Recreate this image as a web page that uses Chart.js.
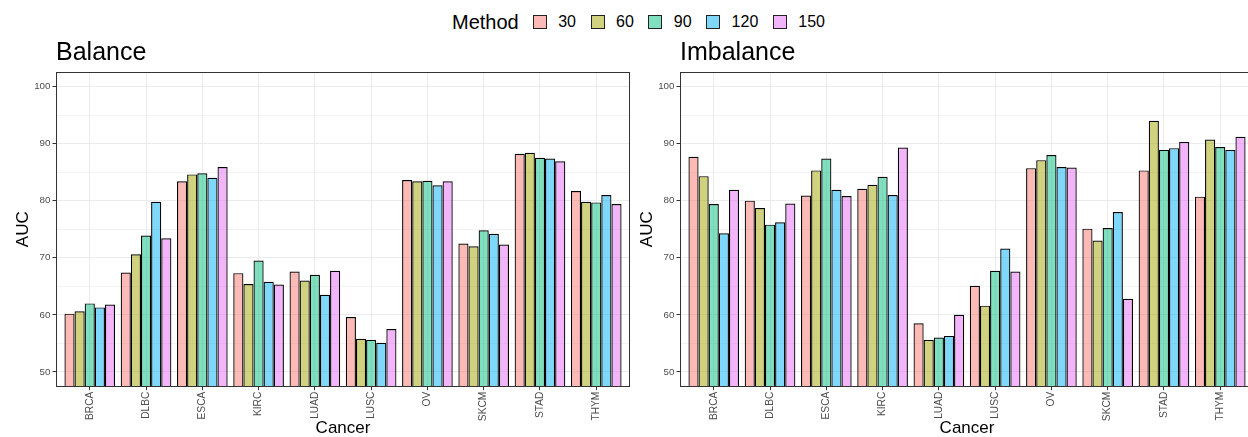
<!DOCTYPE html>
<html>
<head>
<meta charset="utf-8">
<script src="https://cdn.jsdelivr.net/npm/chart.js@4.4.1/dist/chart.umd.min.js"></script>
<style>
  html, body { margin: 0; padding: 0; background: #fff; width: 1248px; height: 437px; overflow: hidden; position: relative; }
  canvas { position: absolute; top: 0; }
  #left { left: 0; }
  #right { left: 624px; }
  #legend { position: absolute; left: 452px; top: 10px; height: 24px; display: flex; align-items: center;
            font-family: "Liberation Sans", Arial, Helvetica, sans-serif; color: #000; white-space: nowrap; }
  #legend .ttl { font-size: 20px; margin-right: 14px; }
  #legend .key { width: 12px; height: 12px; border: 0.8px solid #222; margin-right: 11.5px; }
  #legend .lab { font-size: 16px; margin-right: 14.5px; }
</style>
</head>
<body>
<div id="legend"></div>
<canvas id="left" width="640" height="437"></canvas>
<canvas id="right" width="640" height="437"></canvas>
<script>
// Cancer types along the x axis
const cancers = ['BRCA', 'DLBC', 'ESCA', 'KIRC', 'LUAD', 'LUSC', 'OV', 'SKCM', 'STAD', 'THYM'];
// Method settings (legend entries)
const methods = ['30', '60', '90', '120', '150'];

// AUC per cancer, balanced setting
const balance30  = [60.2, 67.4, 83.4, 67.3, 67.6, 59.6, 83.6, 72.5, 88.2, 81.7];
const balance60  = [60.6, 70.6, 84.6, 65.4, 66.0, 55.8, 83.4, 72.0, 88.4, 79.8];
const balance90  = [62.0, 73.9, 84.8, 69.5, 67.0, 55.6, 83.5, 74.8, 87.5, 79.7];
const balance120 = [61.3, 79.8, 84.0, 65.8, 63.5, 55.1, 82.7, 74.2, 87.4, 81.0];
const balance150 = [61.8, 73.4, 85.9, 65.3, 67.7, 57.5, 83.4, 72.3, 86.9, 79.4];

// AUC per cancer, imbalanced setting
const imbalance30  = [87.7, 80.0, 80.9, 82.1, 58.5, 65.1, 85.7, 75.1, 85.3, 80.7];
const imbalance60  = [84.3, 78.7, 85.3, 82.8, 55.6, 61.6, 87.1, 73.0, 94.0, 90.7];
const imbalance90  = [79.4, 75.8, 87.4, 84.2, 56.0, 67.7, 88.0, 75.2, 88.9, 89.4];
const imbalance120 = [74.3, 76.2, 81.9, 81.0, 56.3, 71.6, 85.9, 78.0, 89.2, 88.9];
const imbalance150 = [81.9, 79.5, 80.8, 89.3, 60.0, 67.6, 85.8, 62.8, 90.3, 91.2];

// y axis tick values
const majorTicks = [50, 60, 70, 80, 90, 100];
const minorTicks = [55, 65, 75, 85, 95];

// default ggplot hue palette, drawn at half opacity
const hues = ['248,118,109', '163,165,0', '0,191,125', '0,176,246', '231,107,243'];
const fillOf = i => `rgba(${hues[i]},0.5)`;

const FONT = '"Liberation Sans", Arial, Helvetica, sans-serif';

// legend shared by both panels
(function buildLegend() {
  const lg = document.getElementById('legend');
  const t = document.createElement('span');
  t.className = 'ttl'; t.textContent = 'Method';
  lg.appendChild(t);
  methods.forEach((m, i) => {
    const k = document.createElement('span');
    k.className = 'key'; k.style.background = fillOf(i);
    const l = document.createElement('span');
    l.className = 'lab'; l.textContent = m;
    lg.appendChild(k); lg.appendChild(l);
  });
})();

// outline around the plotting panel
const panelBorder = {
  id: 'panelBorder',
  afterDatasetsDraw(chart) {
    const {ctx, chartArea: a} = chart;
    ctx.save();
    ctx.strokeStyle = '#333333';
    ctx.lineWidth = 1;
    ctx.strokeRect(Math.round(a.left) + 0.5, Math.round(a.top) + 0.5,
                   Math.round(a.right - a.left) - 1, Math.round(a.bottom - a.top) - 1);
    ctx.restore();
  }
};

function makePanel(id, title, series) {
  const datasets = series.map((vals, i) => ({
    label: methods[i],
    data: vals.map((v, j) => ({x: j + 1, y: v})),
    backgroundColor: fillOf(i),
    borderColor: '#000000',
    borderWidth: 1.2,
    borderSkipped: false,
    categoryPercentage: 0.9,
    barPercentage: 1.0
  }));
  return new Chart(document.getElementById(id), {
    type: 'bar',
    data: {datasets},
    plugins: [panelBorder],
    options: {
      responsive: false,
      animation: false,
      layout: {padding: {left: 0, right: 10, top: 0, bottom: 0}},
      plugins: {
        legend: {display: false},
        tooltip: {enabled: false},
        title: {
          display: true, text: title, align: 'start', fullSize: false,
          color: '#000', font: {family: FONT, size: 25, weight: 'normal', lineHeight: 1.2},
          padding: {top: 38, bottom: 3.7}
        }
      },
      scales: {
        x: {
          type: 'linear', min: 0.4, max: cancers.length + 0.6, offset: false,
          afterBuildTicks: s => { s.ticks = cancers.map((c, i) => ({value: i + 1})); },
          afterFit: s => { s.height = 50.3; },
          border: {display: false},
          grid: {offset: false, color: '#EBEBEB', lineWidth: 1, drawTicks: true, tickLength: 3.5, tickColor: '#333333'},
          ticks: {
            autoSkip: false, minRotation: 90, maxRotation: 90, padding: 1.5,
            color: '#4D4D4D', font: {family: FONT, size: 10.2},
            callback: v => cancers[v - 1]
          },
          title: {display: true, text: 'Cancer', color: '#000', font: {family: FONT, size: 17, lineHeight: 1}, padding: {top: 0, bottom: 0.5}}
        },
        y: {
          type: 'linear', min: 47.4, max: 102.6,
          afterBuildTicks: s => { s.ticks = majorTicks.concat(minorTicks).sort((a, b) => a - b).map(v => ({value: v})); },
          afterFit: s => { s.width = 56; },
          border: {display: false},
          grid: {
            color: '#EBEBEB',
            lineWidth: c => majorTicks.includes(c.tick.value) ? 1 : 0.6,
            tickLength: 3.5,
            tickColor: c => majorTicks.includes(c.tick.value) ? '#333333' : 'rgba(0,0,0,0)'
          },
          ticks: {
            padding: 2, color: '#4D4D4D', font: {family: FONT, size: 9.8},
            callback: v => majorTicks.includes(v) ? String(v) : ''
          },
          title: {display: true, text: 'AUC', color: '#000', font: {family: FONT, size: 17, lineHeight: 1}, padding: {top: 14.5, bottom: 0}}
        }
      }
    }
  });
}

makePanel('left', 'Balance', [balance30, balance60, balance90, balance120, balance150]);
makePanel('right', 'Imbalance', [imbalance30, imbalance60, imbalance90, imbalance120, imbalance150]);
</script>
</body>
</html>
